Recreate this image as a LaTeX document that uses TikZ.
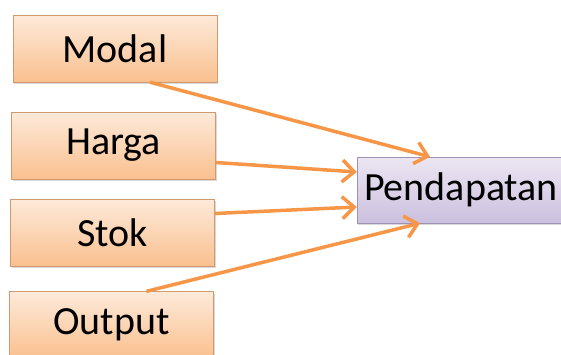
\documentclass[tikz,border=0pt]{standalone}
\usepackage{fontspec}
\setmainfont{Carlito}
\usepackage{tikz}
\usetikzlibrary{positioning,calc,arrows.meta,shadows}
\definecolor{orgtop}{HTML}{FDEADA}
\definecolor{orgbot}{HTML}{FAC08F}
\definecolor{orgline}{HTML}{D09A6E}
\definecolor{lavtop}{HTML}{ECE6F3}
\definecolor{lavbot}{HTML}{CCC0DE}
\definecolor{lavline}{HTML}{9E92B4}
\definecolor{panah}{HTML}{F79646}
\tikzstyle{faktor}= [rectangle, draw=orgline, top color=orgtop, bottom color=orgbot, minimum width=204pt, minimum height=67pt, font=\fontsize{40}{44}\selectfont, drop shadow={shadow xshift=1pt, shadow yshift=-2pt, opacity=0.3}]
\tikzstyle{hasil}= [rectangle, draw=lavline, top color=lavtop, bottom color=lavbot, minimum width=208pt, minimum height=66pt, font=\fontsize{40}{44}\selectfont, drop shadow={shadow xshift=1pt, shadow yshift=-2pt, opacity=0.3}]
\tikzstyle{pnh}= [draw=panah, line width=3.5pt, -{Straight Barb[length=12pt, width=22pt, line width=3.5pt]}]
\begin{document}
\begin{tikzpicture}[x=1pt, y=-1pt]
				\useasboundingbox (0, 0) rectangle (561, 354);
				\node[faktor] (modal) at (115, 48.5) {Modal};
				\node[faktor] (harga) at (113.5, 145.5) {Harga};
				\node[faktor] (stok) at (112.5, 232.5) {Stok};
				\node[faktor] (output) at (111.5, 325) {Output};
				\node[hasil] (pend) at (461, 190) {Pendapatan};
				\draw[pnh] ([xshift=35pt]modal.south) -- ([xshift=-31pt]pend.north);
				\draw[pnh] ([yshift=-17pt]harga.east) -- ([yshift=18pt]pend.west);
				\draw[pnh] ([yshift=19pt]stok.east) -- ([yshift=-17pt]pend.west);
				\draw[pnh] ([xshift=35pt]output.north) -- ([xshift=-41pt]pend.south);
			\end{tikzpicture}
\end{document}
